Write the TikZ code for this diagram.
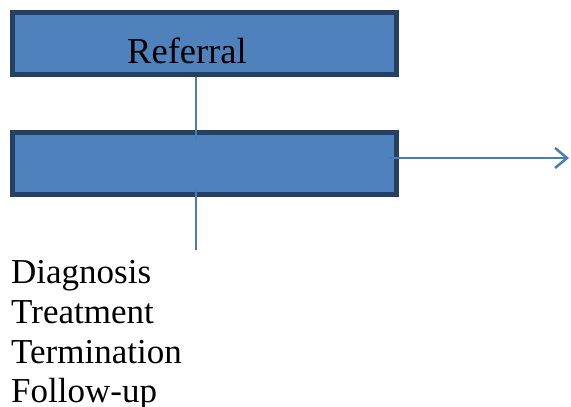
\documentclass[tikz,border=0pt]{standalone}
\usepackage{fontspec}
\setmainfont{Liberation Serif}
\usetikzlibrary{arrows.meta}
\definecolor{boxfill}{HTML}{4F81BD}
\definecolor{boxline}{HTML}{254061}
\definecolor{conn}{HTML}{4A7EBB}
\begin{document}
\begin{tikzpicture}[x=1pt,y=-1pt,
  blockbox/.style={draw=boxline,fill=boxfill,line width=5pt,minimum width=384pt,minimum height=62pt,inner sep=0pt},
  lbl/.style={anchor=base west,inner sep=0pt,font=\fontsize{35}{40}\selectfont},
  connline/.style={draw=conn,line width=2.5pt}]
\useasboundingbox (0,0) rectangle (571,407);
\node[blockbox] (box1) at (204.5,43.5) {};
\node[blockbox] (box2) at (204.5,163.5) {};
\node[lbl,font=\fontsize{36.5}{40}\selectfont] (ref) at (127,63) {Referral};
\coordinate (a1) at (196,77);
\coordinate (a2) at (196,140);
\coordinate (b1) at (196,189);
\coordinate (b2) at (196,250);
\coordinate (c1) at (388,158);
\coordinate (c2) at (569,158);
\draw[connline] (a1) -- (a2);
\draw[connline] (b1) -- (b2);
\draw[connline,-{Straight Barb[length=12pt,width=20pt,line width=2.5pt]}] (c1) -- (c2);
\node[lbl] (d1) at (11,283) {Diagnosis};
\node[lbl] (d2) at (11,323) {Treatment};
\node[lbl] (d3) at (11,363) {Termination};
\node[lbl] (d4) at (11,402) {Follow-up};
\end{tikzpicture}
\end{document}
